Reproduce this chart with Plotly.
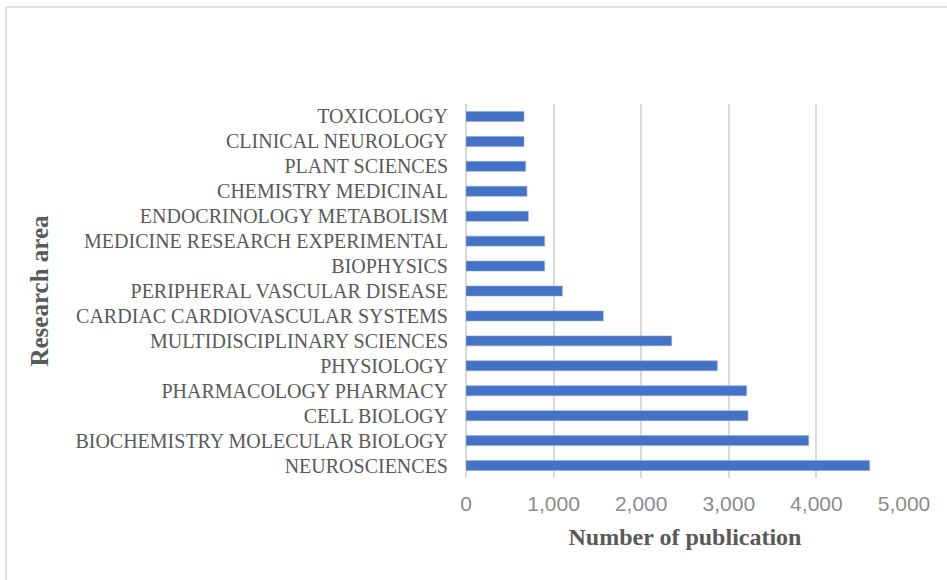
import plotly.graph_objects as go

categories = [
    "NEUROSCIENCES",
    "BIOCHEMISTRY MOLECULAR BIOLOGY",
    "CELL BIOLOGY",
    "PHARMACOLOGY PHARMACY",
    "PHYSIOLOGY",
    "MULTIDISCIPLINARY SCIENCES",
    "CARDIAC CARDIOVASCULAR SYSTEMS",
    "PERIPHERAL VASCULAR DISEASE",
    "BIOPHYSICS",
    "MEDICINE RESEARCH EXPERIMENTAL",
    "ENDOCRINOLOGY METABOLISM",
    "CHEMISTRY MEDICINAL",
    "PLANT SCIENCES",
    "CLINICAL NEUROLOGY",
    "TOXICOLOGY",
]
publications = [4608, 3912, 3219, 3204, 2869, 2348, 1567, 1100, 898, 898, 711, 696, 681, 662, 662]
x_tickvals = [0, 1000, 2000, 3000, 4000, 5000]
x_ticktext = ["0", "1,000", "2,000", "3,000", "4,000", "5,000"]

fig = go.Figure(
    go.Bar(
        x=publications,
        y=categories,
        orientation="h",
        marker=dict(color="#4472C4", line=dict(color="#8FAADC", width=0.6)),
    )
)

fig.update_layout(
    width=947,
    height=580,
    margin=dict(l=466, r=43, t=104, b=102),
    paper_bgcolor="white",
    plot_bgcolor="white",
    bargap=0.6,
    showlegend=False,
    xaxis=dict(
        range=[0, 5000],
        tickvals=x_tickvals,
        ticktext=x_ticktext,
        showgrid=True,
        gridcolor="#D9D9D9",
        gridwidth=1.5,
        zeroline=True,
        zerolinecolor="#D9D9D9",
        zerolinewidth=1.5,
        tickfont=dict(family="Liberation Sans", size=21, color="#8C8C8C"),
        ticklabelstandoff=11,
        title=dict(
            text="Number of publication",
            font=dict(family="Liberation Serif", size=24, color="#595959", weight="bold"),
            standoff=14,
        ),
    ),
    yaxis=dict(
        showgrid=False,
        tickfont=dict(family="Liberation Serif", size=20, color="#595959"),
        ticklabelstandoff=17,
        title=dict(
            text="Research area",
            font=dict(family="Liberation Serif", size=25, color="#595959", weight="bold"),
            standoff=19,
        ),
    ),
    shapes=[
        dict(
            type="rect",
            xref="paper",
            yref="paper",
            x0=(6 - 466) / 438,
            x1=1.2,
            y0=-0.35,
            y1=(478 - 7) / 374,
            line=dict(color="#D9D9D9", width=1.5),
            fillcolor="rgba(0,0,0,0)",
            layer="below",
        )
    ],
)

fig.write_html(
    "out.html",
    config={"displayModeBar": False},
    post_script="document.body.style.margin='0';",
)
